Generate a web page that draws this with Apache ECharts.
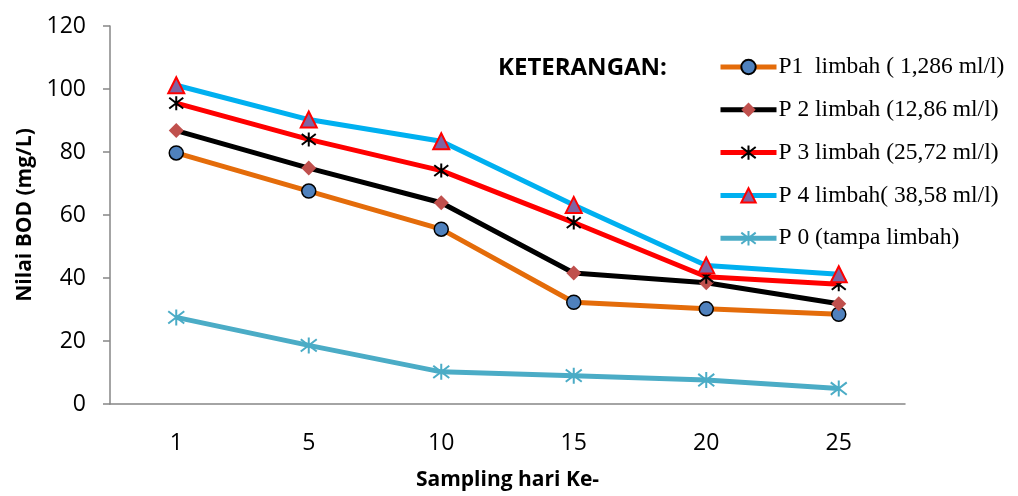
<!DOCTYPE html>
<html>
<head>
<meta charset="utf-8">
<script src="https://cdn.jsdelivr.net/npm/echarts@6/dist/echarts.min.js"></script>
<style>html,body{margin:0;padding:0;background:#fff;}#c{width:1018px;height:496px;}</style>
</head>
<body>
<div id="c"></div>
<script>
var categories = ['1', '5', '10', '15', '20', '25'];
var seriesNames = ['P1  limbah ( 1,286 ml/l)', 'P 2 limbah (12,86 ml/l)', 'P 3 limbah (25,72 ml/l)', 'P 4 limbah( 38,58 ml/l)', 'P 0 (tampa limbah)'];
var p1 = [79.7, 67.6, 55.5, 32.3, 30.2, 28.5];
var p2 = [86.8, 74.9, 63.9, 41.6, 38.5, 31.8];
var p3 = [95.5, 84.0, 74.1, 57.6, 40.4, 38.0];
var p4 = [101.2, 90.3, 83.4, 63.2, 44.0, 41.2];
var p0 = [27.5, 18.6, 10.2, 9.0, 7.6, 4.9];
var yTicks = [0, 20, 40, 60, 80, 100, 120];

var star = 'path://M0,0L10,10M10,0L0,10M5,-1.5L5,11.5';
var chart = echarts.init(document.getElementById('c'));
function mk(name, data, color, symbol, size, itemStyle) {
  return {
    name: name, type: 'line', data: data, symbol: symbol, symbolSize: size,
    showAllSymbol: true,
    lineStyle: {color: color, width: 5},
    itemStyle: itemStyle,
    emphasis: {disabled: true},
    z: 2
  };
}
var legendData = seriesNames.map(function (n) {
  return {name: n, lineStyle: {width: 5}};
});
chart.setOption({
  animation: false,
  backgroundColor: '#fff',
  grid: {left: 110, right: 113, top: 26, bottom: 92},
  title: {
    text: 'KETERANGAN:', left: 493, top: 51,
    textStyle: {fontFamily: 'Open Sans', fontWeight: 'bold', fontSize: 24, color: '#000'}
  },
  legend: {
    orient: 'vertical', left: 713, top: 50, itemGap: 18.8,
    itemWidth: 56, itemHeight: 18,
    lineStyle: {width: 5},
    textStyle: {fontFamily: 'Liberation Serif', fontSize: 23.5, color: '#000', padding: [0, 0, 0, -3]},
    data: legendData
  },
  xAxis: {
    type: 'category', data: categories, boundaryGap: true,
    axisLine: {lineStyle: {color: '#868686', width: 1.5}},
    axisTick: {show: false},
    axisLabel: {fontFamily: 'Open Sans', fontSize: 23, color: '#000', margin: 28},
    name: 'Sampling hari Ke-', nameLocation: 'middle', nameGap: 66,
    nameTextStyle: {fontFamily: 'Open Sans', fontWeight: 'bold', fontSize: 21, color: '#000'}
  },
  yAxis: {
    type: 'value', min: 0, max: 120, interval: 20,
    axisLine: {show: true, lineStyle: {color: '#868686', width: 1.5}},
    axisTick: {show: true, length: 7, lineStyle: {color: '#868686', width: 1.5}},
    splitLine: {show: false},
    axisLabel: {fontFamily: 'Open Sans', fontSize: 23, color: '#000', margin: 24,
      formatter: function (v) { return yTicks.indexOf(v) >= 0 ? String(v) : ''; }},
    name: 'Nilai BOD (mg/L)', nameLocation: 'middle', nameGap: 74,
    nameTextStyle: {fontFamily: 'Open Sans', fontWeight: 'bold', fontSize: 21, color: '#000'}
  },
  series: [
    mk(seriesNames[0], p1, '#E46C0A', 'circle', 14, {color: '#4F81BD', borderColor: '#000', borderWidth: 1.5}),
    mk(seriesNames[1], p2, '#000000', 'diamond', 15, {color: '#C0504D', borderColor: '#C0504D', borderWidth: 0}),
    mk(seriesNames[2], p3, '#FF0000', star, 14, {color: 'none', borderColor: '#000', borderWidth: 2}),
    mk(seriesNames[3], p4, '#00B0F0', 'triangle', 16, {color: '#8064A2', borderColor: '#FF0000', borderWidth: 2}),
    mk(seriesNames[4], p0, '#4BACC6', star, 16, {color: 'none', borderColor: '#4BACC6', borderWidth: 2})
  ]
});
</script>
</body>
</html>
